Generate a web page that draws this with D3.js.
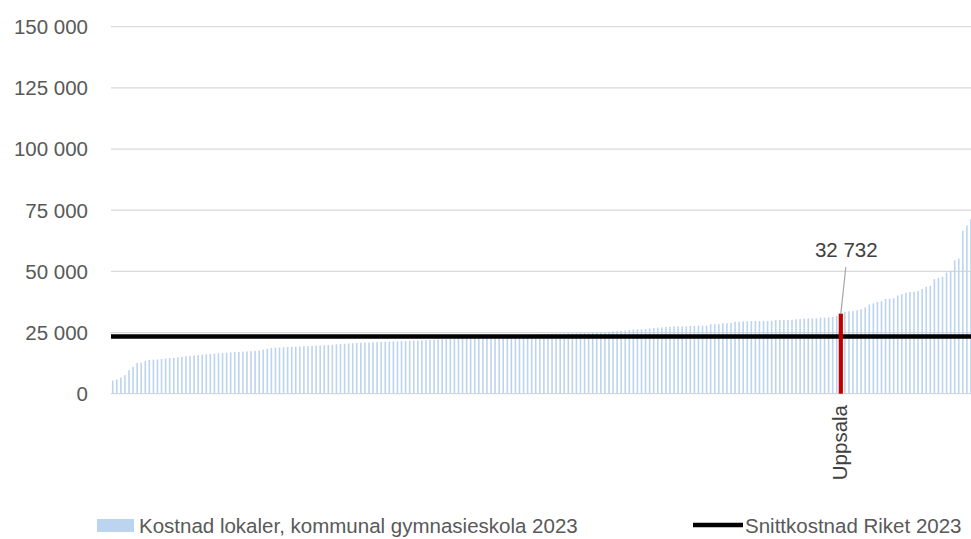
<!DOCTYPE html>
<html>
<head>
<meta charset="utf-8">
<script src="https://cdn.jsdelivr.net/npm/d3@7"></script>
<style>
  body { margin: 0; background: #fff; }
  svg { display: block; font-family: "Liberation Sans", Arial, sans-serif; }
</style>
</head>
<body>
<div id="chart"></div>
<script>
// kostnad lokaler per elev, sorted ascending
var costs = [
  5400, 5800, 6600, 7600, 9600, 11000, 12600, 12700, 13300, 13800, 13900, 14000,
  14200, 14400, 14600, 14700, 14900, 15100, 15300, 15400, 15600, 15800, 16000, 16100,
  16200, 16400, 16500, 16600, 16700, 16900, 17000, 17100, 17200, 17300, 17400, 17500,
  17600, 18000, 18400, 18700, 18800, 18900, 19000, 19100, 19100, 19200, 19300, 19400,
  19400, 19500, 19600, 19700, 19800, 19900, 20000, 20200, 20300, 20400, 20500, 20600,
  20700, 20800, 20900, 20900, 21000, 21100, 21100, 21200, 21300, 21400, 21400, 21500,
  21500,
  21600, 21700, 21700, 21800, 21900, 22000,
  22100, 22200, 22300, 22300, 22400, 22500, 22600, 22700, 22800, 22900, 23000, 23100,
  23200, 23300, 23400, 23500, 23600, 23600, 23700, 23800, 23800, 23900, 24000, 24100,
  24100, 24200, 24300,
  24400, 24400, 24500, 24500, 24600, 24600, 24700, 24700, 24700, 24800, 24800, 24800,
  24900, 24900, 25000,
  25100, 25300, 25500, 25500, 25700, 25800, 26000, 26200, 26300, 26300, 26500, 26700,
  26900, 27000, 27100, 27300, 27400, 27500, 27500, 27500, 27600, 27700, 27700,
  27800, 27800, 27800, 28400, 28400, 28500, 28800, 28800, 28900, 29400, 29400, 29600,
  29600, 29700, 29700, 29700, 29700, 29700, 29800, 30100, 30100, 30100, 30100, 30200,
  30400, 30500, 30700, 30800, 30800, 30800, 31100, 31100, 31200, 31300, 31800,
  32732,
  33400, 33700, 33800, 34100, 34500, 35300, 36500, 36900, 37500, 37800, 38700, 38800,
  39000, 40100, 40700, 41300, 41600, 41700, 42000, 42800, 43700, 44100, 46800, 47300,
  47800, 49500, 50300, 54500, 55200, 66600, 68800, 71300
];
var highlightName = "Uppsala";
var highlightIndex = 179;
var averageCost = 23400;
var yTicks = [0, 25000, 50000, 75000, 100000, 125000, 150000];
var legendLabels = ["Kostnad lokaler, kommunal gymnasieskola 2023", "Snittkostnad Riket 2023"];

var width = 971, height = 539;
var plotLeft = 110.7, plotRight = 973, plotTop = 26.7, plotBottom = 393.7;

var svg = d3.select("#chart").append("svg")
    .attr("width", width)
    .attr("height", height);

var x = d3.scaleBand()
    .domain(d3.range(costs.length))
    .range([plotLeft, plotRight]);

var y = d3.scaleLinear()
    .domain([0, 150000])
    .range([plotBottom, plotTop]);

var fmt = d3.formatLocale({decimal: ",", thousands: " ", grouping: [3], currency: ["", " kr"]}).format(",d");

// gridlines
svg.append("g")
    .selectAll("line")
    .data(yTicks)
    .enter().append("line")
    .attr("x1", 111)
    .attr("x2", width)
    .attr("y1", function(d){ return y(d); })
    .attr("y2", function(d){ return y(d); })
    .attr("stroke", "#d9d9d9")
    .attr("stroke-width", 1.3);

// y tick labels
svg.append("g")
    .selectAll("text")
    .data(yTicks)
    .enter().append("text")
    .attr("x", 88)
    .attr("y", function(d){ return y(d); })
    .attr("dy", "0.36em")
    .attr("text-anchor", "end")
    .attr("fill", "#595959")
    .style("font-size", "20.5px")
    .text(function(d){ return fmt(d); });

// bars
svg.append("g")
    .selectAll("rect")
    .data(costs)
    .enter().append("rect")
    .attr("x", function(d, i){ return x(i) + x.bandwidth() / 2 - 0.8; })
    .attr("width", 1.6)
    .attr("y", function(d){ return y(d); })
    .attr("height", function(d){ return y(0) - y(d); })
    .attr("fill", "#bcd4f0");

// average line
svg.append("line")
    .attr("x1", 111)
    .attr("x2", width)
    .attr("y1", y(averageCost))
    .attr("y2", y(averageCost))
    .attr("stroke", "#000")
    .attr("stroke-width", 4.5);

// highlighted bar
var hx = x(highlightIndex) + x.bandwidth() / 2;
svg.append("rect")
    .attr("x", hx - 2.1)
    .attr("width", 4.2)
    .attr("y", y(costs[highlightIndex]))
    .attr("height", y(0) - y(costs[highlightIndex]))
    .attr("fill", "#c00000");

// data label with leader line
svg.append("line")
    .attr("x1", hx + 5)
    .attr("y1", 267)
    .attr("x2", hx)
    .attr("y2", y(costs[highlightIndex]))
    .attr("stroke", "#a6a6a6")
    .attr("stroke-width", 1.2);

svg.append("text")
    .attr("x", hx + 5.5)
    .attr("y", 257)
    .attr("text-anchor", "middle")
    .attr("fill", "#404040")
    .style("font-size", "20.5px")
    .text(fmt(costs[highlightIndex]));

// category label
svg.append("text")
    .attr("transform", "translate(" + (hx + 6.5) + ",405) rotate(-90)")
    .attr("text-anchor", "end")
    .attr("fill", "#404040")
    .style("font-size", "20.5px")
    .text(highlightName);

// legend
var legend = svg.append("g");
legend.append("rect")
    .attr("x", 97)
    .attr("y", 519)
    .attr("width", 37)
    .attr("height", 13)
    .attr("fill", "#bcd4f0");
legend.append("text")
    .attr("x", 139)
    .attr("y", 526)
    .attr("dy", "0.36em")
    .attr("fill", "#595959")
    .style("font-size", "20.5px")
    .text(legendLabels[0]);
legend.append("line")
    .attr("x1", 693)
    .attr("x2", 743)
    .attr("y1", 525)
    .attr("y2", 525)
    .attr("stroke", "#000")
    .attr("stroke-width", 4.5);
legend.append("text")
    .attr("x", 745)
    .attr("y", 526)
    .attr("dy", "0.36em")
    .attr("fill", "#595959")
    .style("font-size", "20.5px")
    .text(legendLabels[1]);
</script>
</body>
</html>
